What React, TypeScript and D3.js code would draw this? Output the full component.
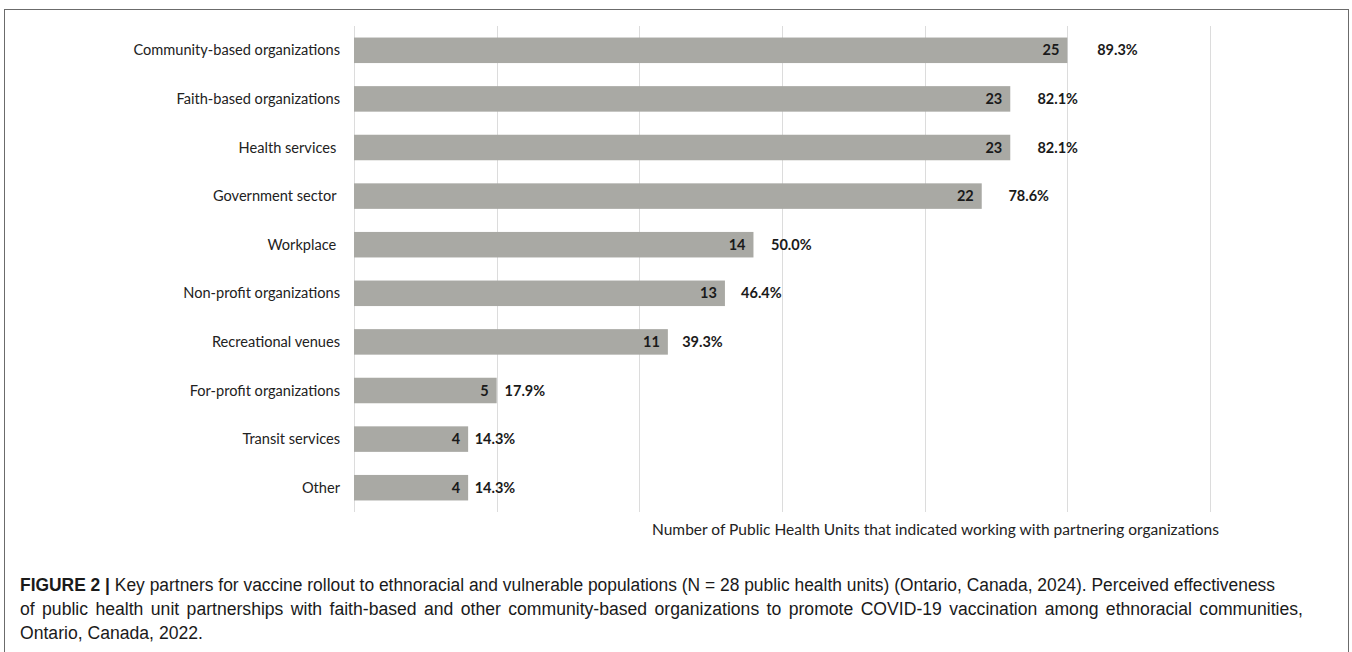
import React, { useLayoutEffect, useRef, useState } from "react";
import * as d3 from "d3";

const categories = [
  "Community-based organizations",
  "Faith-based organizations",
  "Health services ",
  "Government sector ",
  "Workplace ",
  "Non-profit organizations",
  "Recreational venues",
  "For-profit organizations",
  "Transit services",
  "Other",
];
const counts = [25, 23, 23, 22, 14, 13, 11, 5, 4, 4];
const percents = [89.3, 82.1, 82.1, 78.6, 50.0, 46.4, 39.3, 17.9, 14.3, 14.3];
const xTicks = [0, 5, 10, 15, 20, 25, 30];
const axisTitle =
  "Number of Public Health Units that indicated working with partnering organizations";
const captionBold = "FIGURE 2 | ";
const captionLines = [
  "Key partners for vaccine rollout to ethnoracial and vulnerable populations (N = 28 public health units) (Ontario, Canada, 2024). Perceived effectiveness",
  "of public health unit partnerships with faith-based and other community-based organizations to promote COVID-19 vaccination among ethnoracial communities,",
  "Ontario, Canada, 2022.",
];

const W = 1352;
const H = 652;
const plotLeft = 354;
const plotRight = 1210;
const plotTop = 26;
const plotBottom = 512;

export default function App() {
  const line2Ref = useRef<SVGTextElement | null>(null);
  const [wordSpacing, setWordSpacing] = useState(0);
  const [squeeze, setSqueeze] = useState<number | undefined>(undefined);

  useLayoutEffect(() => {
    const el = line2Ref.current;
    if (!el) return;
    const natural = el.getComputedTextLength();
    const spaces = (captionLines[1].match(/ /g) || []).length;
    const target = 1283;
    if (spaces > 0 && natural < target) setWordSpacing((target - natural) / spaces);
    else if (natural > target) setSqueeze(target);
  }, []);

  const x = d3.scaleLinear().domain([0, 30]).range([plotLeft, plotRight]);
  const xPct = d3.scaleLinear().domain([0, 100]).range([plotLeft + 2, plotLeft + 2 + 830]);
  const y = d3
    .scaleBand<string>()
    .domain(categories)
    .range([plotTop, plotBottom])
    .paddingInner(0.475)
    .paddingOuter(0.2375);

  const font = "Lato, 'Open Sans', sans-serif";
  const capFont = "'Liberation Sans', Arial, sans-serif";
  const capSize = 17.6;

  return (
    <svg
      width={W}
      height={H}
      style={{ position: "absolute", left: 0, top: 0, background: "#fff" }}
    >
      <rect x={4.5} y={9.5} width={1344} height={700} fill="none" stroke="#6b6b6b" strokeWidth={1} />
      {xTicks.map((t) => (
        <line
          key={t}
          x1={Math.round(x(t)) + 0.5}
          x2={Math.round(x(t)) + 0.5}
          y1={plotTop}
          y2={plotBottom}
          stroke="#dcdcdc"
          strokeWidth={1}
        />
      ))}
      {categories.map((c, i) => {
        const yy = y(c) as number;
        const bw = y.bandwidth();
        const cy = yy + bw / 2;
        return (
          <g key={c}>
            <rect
              x={x(0)}
              y={yy}
              width={x(counts[i]) - x(0)}
              height={bw}
              fill="#a9a9a4"
            />
            <text
              x={340}
              y={cy}
              dy="0.35em"
              textAnchor="end"
              fontFamily={font}
              fontSize={14.6}
              fill="#222"
              style={{ whiteSpace: "pre" }}
            >
              {c}
            </text>
            <text
              x={x(counts[i]) - 8}
              y={cy}
              dy="0.35em"
              textAnchor="end"
              fontFamily={font}
              fontWeight="bold"
              fontSize={14.5}
              fill="#1a1a1a"
            >
              {counts[i]}
            </text>
            <text
              x={xPct(percents[i])}
              y={cy}
              dy="0.35em"
              textAnchor="start"
              fontFamily={font}
              fontWeight="bold"
              fontSize={14.5}
              fill="#1a1a1a"
            >
              {percents[i].toFixed(1) + "%"}
            </text>
          </g>
        );
      })}
      <text x={652} y={535} fontFamily={font} fontSize={14.6} fill="#222" textLength={567} lengthAdjust="spacingAndGlyphs">
        {axisTitle}
      </text>
      <text
        x={20}
        y={591}
        fontFamily={capFont}
        fontSize={capSize}
        fill="#1a1a1a"
        textLength={1255}
        lengthAdjust="spacingAndGlyphs"
      >
        <tspan fontWeight="bold">{captionBold}</tspan>
        <tspan>{captionLines[0]}</tspan>
      </text>
      <text
        ref={line2Ref}
        x={20}
        y={615}
        fontFamily={capFont}
        fontSize={capSize}
        fill="#1a1a1a"
        wordSpacing={wordSpacing}
        textLength={squeeze}
        lengthAdjust={squeeze ? "spacingAndGlyphs" : undefined}
      >
        {captionLines[1]}
      </text>
      <text x={20} y={639} fontFamily={capFont} fontSize={capSize} fill="#1a1a1a">
        {captionLines[2]}
      </text>
    </svg>
  );
}
